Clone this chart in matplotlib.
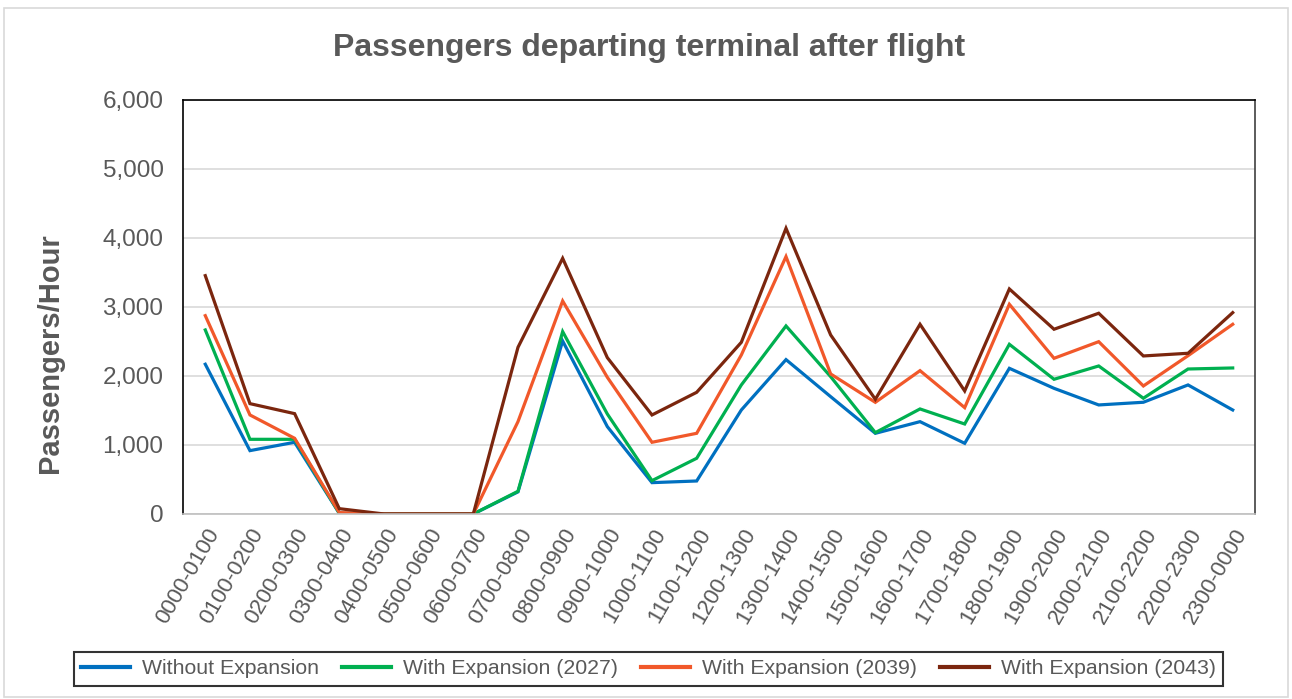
import matplotlib.pyplot as plt
from matplotlib.patches import Rectangle
from matplotlib.ticker import FuncFormatter

plt.rcParams["font.family"] = ["Liberation Sans", "DejaVu Sans"]

# ---------------------------------------------------------------------------
# Data (passengers per hour)
# ---------------------------------------------------------------------------
HOURS = [
    "0000-0100", "0100-0200", "0200-0300", "0300-0400", "0400-0500", "0500-0600",
    "0600-0700", "0700-0800", "0800-0900", "0900-1000", "1000-1100", "1100-1200",
    "1200-1300", "1300-1400", "1400-1500", "1500-1600", "1600-1700", "1700-1800",
    "1800-1900", "1900-2000", "2000-2100", "2100-2200", "2200-2300", "2300-0000",
]

WITHOUT_EXPANSION = [2170, 918, 1039, 10, 0, 0, 0, 320, 2507, 1266, 454, 478,
                     1507, 2237, 1700, 1169, 1338, 1024, 2111, 1821, 1580, 1619, 1870, 1507]
WITH_2027 = [2667, 1082, 1082, 10, 0, 0, 0, 329, 2643, 1449, 483, 807,
             1870, 2725, 1990, 1179, 1522, 1304, 2459, 1952, 2145, 1677, 2101, 2116]
WITH_2039 = [2874, 1435, 1097, 20, 0, 0, 0, 1338, 3087, 1981, 1039, 1169,
             2304, 3730, 2029, 1618, 2077, 1541, 3039, 2256, 2497, 1855, 2294, 2749]
WITH_2043 = [3454, 1599, 1454, 77, 0, 0, 0, 2415, 3705, 2266, 1435, 1763,
             2488, 4140, 2594, 1662, 2749, 1783, 3261, 2677, 2909, 2290, 2329, 2918]

SERIES = [
    ("Without Expansion", WITHOUT_EXPANSION, "#0070C0"),
    ("With Expansion (2027)", WITH_2027, "#00B050"),
    ("With Expansion (2039)", WITH_2039, "#F1582A"),
    ("With Expansion (2043)", WITH_2043, "#7B260E"),
]

TEXT_GREY = "#595959"

fig = plt.figure(figsize=(12.92, 6.99), dpi=100)
# light chart-area border like the spreadsheet export
fig.patches.append(Rectangle((0.003, 0.003), 0.994, 0.985, transform=fig.transFigure,
                             fill=False, edgecolor="#d9d9d9", lw=1.2))

ax = fig.add_axes([0.1416, 0.2647, 0.8298, 0.5923])

x = range(len(HOURS))
for name, values, colour in SERIES:
    ax.plot(x, values, color=colour, lw=2.3, label=name, solid_joinstyle="miter")

ax.set_xlim(-0.5, len(HOURS) - 0.5)
ax.set_ylim(0, 6000)
ax.set_yticks(range(0, 6001, 1000))
ax.yaxis.set_major_formatter(FuncFormatter(lambda v, _: f"{int(v):,}"))
ax.set_xticks(list(x))
ax.set_xticklabels(HOURS, rotation=60, ha="right", rotation_mode="anchor")
ax.tick_params(axis="both", length=0, labelcolor=TEXT_GREY)
ax.tick_params(axis="y", pad=14, labelsize=17.5)
ax.tick_params(axis="x", pad=8, labelsize=16)
ax.grid(axis="y", color="#d9d9d9", lw=1.2)
ax.set_axisbelow(True)

for side in ("left", "top"):
    ax.spines[side].set_color("#000000")
ax.spines["right"].set_color("#404040")
ax.spines["bottom"].set_color("#bfbfbf")
for sp in ax.spines.values():
    sp.set_linewidth(1.2)

# y label sits a bit below the axes centre in the original
fig.text(50 / 1292, 1 - 353 / 699, "Passengers/Hour", rotation=90, ha="center", va="center",
         fontsize=21, fontweight="bold", color=TEXT_GREY)
fig.text(0.502, 0.932, "Passengers departing terminal after flight", ha="center", va="center",
         fontsize=23, fontweight="bold", color=TEXT_GREY)

leg = fig.legend(loc="center", bbox_to_anchor=(0.502, 0.043), ncol=4, fontsize=15.3,
                 frameon=True, fancybox=False, edgecolor="#000000", handlelength=2.3,
                 columnspacing=1.1, handletextpad=0.55, borderpad=0.35, borderaxespad=0)
leg.get_frame().set_linewidth(1.5)
for line in leg.get_lines():
    line.set_linewidth(3)
for t in leg.get_texts():
    t.set_color(TEXT_GREY)

fig.savefig("out.png", dpi=100)
